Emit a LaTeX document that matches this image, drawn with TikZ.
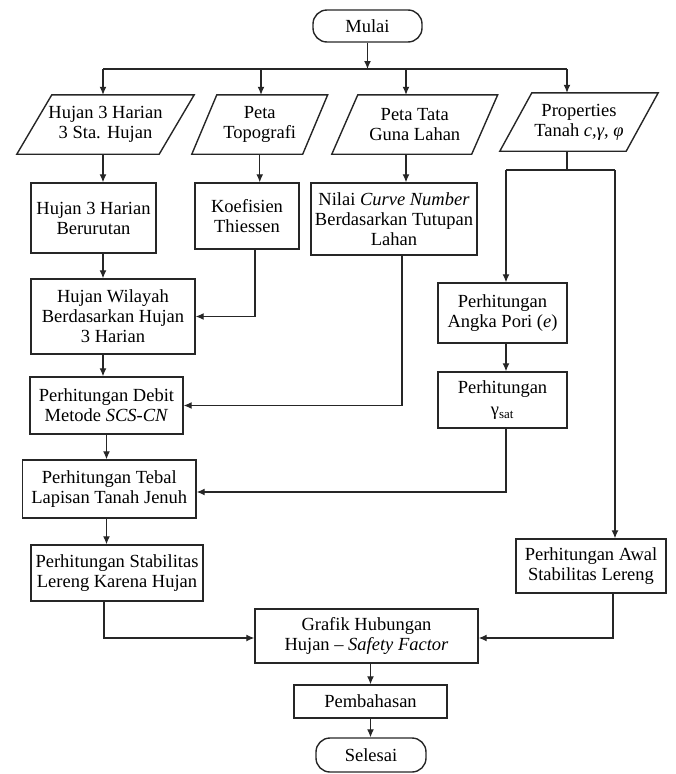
\documentclass[tikz,border=0pt]{standalone}
\usepackage{fontspec}
\setmainfont{Liberation Serif}
\usetikzlibrary{arrows.meta,calc}
\newcommand{\bxfont}{\fontsize{18.5}{20}\selectfont}
\tikzset{
  box/.style={draw=black!85, line width=1.4pt, inner sep=0pt, align=center, font=\bxfont},
  paratext/.style={inner sep=0pt, align=center, font=\bxfont},
  pline/.style={draw=black!85, line width=1.4pt, line join=miter},
  term/.style={draw=black!85, line width=1.4pt, rounded corners=14pt, inner sep=0pt, align=center, font=\bxfont},
  ln/.style={draw=black!85, line width=1.2pt},
  arr/.style={draw=black!85, line width=1.2pt, -{Latex[length=8pt,width=7pt]}},
}
% name, cx, cy, mid width, height, slant, text
\newcommand{\paral}[7]{%
  \node[paratext, minimum width=#4, minimum height=#5] (#1) at (#2,#3) {#7};
  \draw[pline] ([xshift={0.5*#6}]#1.north west) -- ([xshift={0.5*#6}]#1.north east)
     -- ([xshift={-0.5*#6}]#1.south east) -- ([xshift={-0.5*#6}]#1.south west) -- cycle;
}
\begin{document}
\begin{tikzpicture}[x=1pt,y=-1pt]
\useasboundingbox (0,0) rectangle (675,774);

% terminals
\node[term, minimum width=109, minimum height=32] (mulai) at (367.5,26) {Mulai};
\node[term, minimum width=110, minimum height=34] (sel) at (371,755) {Selesai};

% inputs
\paral{p1}{105.5}{124.5}{142}{59}{35}{Hujan 3 Harian\\3 Sta. Hujan}
\paral{p2}{259.75}{124.5}{110.5}{59}{25}{Peta\\Topografi}
\paral{p3}{414.75}{124.5}{139.5}{59}{26}{Peta Tata\\Guna Lahan}
\paral{p4}{579}{122}{126}{58}{32}{Properties\\Tanah \textit{c},\textit{γ}, \textit{φ}}

% process boxes
\node[box, minimum width=125, minimum height=70] (b1) at (93.5,218) {Hujan 3 Harian\\Berurutan};
\node[box, minimum width=104, minimum height=66] (b2) at (247,216) {Koefisien\\Thiessen};
\node[box, minimum width=166, minimum height=72] (b3) at (394,219) {Nilai \textit{Curve Number}\\Berdasarkan Tutupan\\Lahan};
\node[box, minimum width=164, minimum height=75] (b4) at (113,316.5) {Hujan Wilayah\\Berdasarkan Hujan\\3 Harian};
\node[box, minimum width=129, minimum height=60] (b5) at (502.5,313) {Perhitungan\\Angka Pori (\textit{e})};
\node[box, minimum width=129, minimum height=56] (b6) at (502.5,400) {Perhitungan\\[2pt]γ\textsubscript{sat}};
\node[box, minimum width=153, minimum height=57] (b7) at (106.5,405.5) {Perhitungan Debit\\Metode \textit{SCS-CN}};
\node[box, minimum width=173.5, minimum height=58] (b8) at (109.25,489) {Perhitungan Tebal\\Lapisan Tanah Jenuh};
\node[box, minimum width=172, minimum height=56] (b9) at (117,573) {Perhitungan Stabilitas\\Lereng Karena Hujan};
\node[box, minimum width=150, minimum height=54] (b10) at (591,566) {Perhitungan Awal\\Stabilitas Lereng};
\node[box, minimum width=223, minimum height=54] (b11) at (366.5,636) {Grafik Hubungan\\Hujan -- \textit{Safety Factor}};
\node[box, minimum width=153, minimum height=33] (b12) at (370.5,701.5) {Pembahasan};

% distribution line
\coordinate (j1) at (103,69);
\coordinate (j2) at (261,69);
\coordinate (j3) at (406,69);
\coordinate (j4) at (567,69);
\draw[arr] (mulai.south) -- (mulai.south |- j1);
\draw[ln] (j1) -- (j4);
\draw[arr] (j1) -- (j1 |- p1.north);
\draw[arr] (j2) -- (j2 |- p2.north);
\draw[arr] (j3) -- (j3 |- p3.north);
\draw[arr] (j4) -- (j4 |- p4.north);

% left column
\draw[arr] (j1 |- p1.south) -- (j1 |- b1.north);
\draw[arr] (j1 |- b1.south) -- (j1 |- b4.north);
\draw[arr] (j1 |- b4.south) -- (j1 |- b7.north);
\draw[arr] (b7.south) -- (b7.south |- b8.north);
\draw[arr] (b7.south |- b8.south) -- (b7.south |- b9.north);

% second column
\draw[arr] (p2.south) -- (p2.south |- b2.north);
\draw[arr] ([xshift=8pt]b2.south) |- (b4.east);

% third column
\draw[arr] (j3 |- p3.south) -- (j3 |- b3.north);
\draw[arr] ([xshift=8pt]b3.south) |- (b7.east);

% soil properties branch
\coordinate (sL) at (506,170);
\coordinate (sR) at (615,170);
\draw[ln] (j4 |- p4.south) -- (j4 |- sL);
\draw[ln] (sL) -- (sR);
\draw[arr] (sL) -- (sL |- b5.north);
\draw[arr] (sR) -- (sR |- b10.north);
\draw[arr] (sL |- b5.south) -- (sL |- b6.north);
\draw[arr] (sL |- b6.south) |- ([yshift=-3pt]b8.east);

% to graph
\draw[arr] ([xshift=-13pt]b9.south) |- ([yshift=-2pt]b11.west);
\draw[arr] ([xshift=22pt]b10.south) |- ([yshift=-2pt]b11.east);
\draw[arr] (b12.north |- b11.south) -- (b12.north);
\draw[arr] (b12.south) -- (b12.south |- sel.north);
\end{tikzpicture}
\end{document}
